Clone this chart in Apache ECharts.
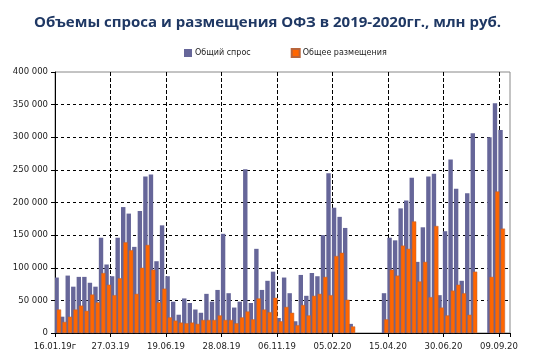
<!DOCTYPE html>
<html><head><meta charset="utf-8">
<script src="https://cdn.jsdelivr.net/npm/echarts@6/dist/echarts.min.js"></script>
<style>html,body{margin:0;padding:0;background:#fff}#c{width:535px;height:362px}</style>
</head><body><div id="c"></div>
<script>
// Tick labels (every 10th auction)
const tickLabels = ['16.01.19г','27.03.19','19.06.19','28.08.19','06.11.19','05.02.20','15.04.20','30.06.20','09.09.20'];
// Общий спрос, тыс. млн руб.
const demand = [85,25,88,71,86,86,77,71,146,105, 87,146,193,183,132,187,240,243,110,165,
  87,48,28,53,46,36,31,60,48,66, 152,61,39,48,251,46,129,66,80,94,
  23,85,61,18,89,57,92,87,150,245, 192,178,161,14,null,null,null,null,null,61,
  146,142,191,203,238,109,162,240,244,58, 156,266,221,80,214,306,null,null,300,352,
  311,null];
// Общее размещения
const supply = [36,17,25,36,42,34,59,47,92,74, 58,84,139,127,60,100,135,97,47,68,
  24,19,16,15,16,14,20,20,20,27, 20,20,15,24,33,21,53,36,32,54,
  18,40,31,12,43,27,57,60,86,58, 118,123,51,10,null,null,null,null,null,21,
  97,88,134,129,171,79,109,55,164,39, 27,65,74,61,28,94,null,null,86,217,
  160,null];

const categories = demand.map((_, i) => 'a' + i);
const k = v => v == null ? null : v * 1000;
const fmt = v => String(v).replace(/\B(?=(\d{3})+(?!\d))/g, ' ');

const chart = echarts.init(document.getElementById('c'), null, {renderer: 'canvas'});
chart.setOption({
  animation: false,
  backgroundColor: '#fff',
  title: {
    text: 'Объемы спроса и размещения ОФЗ в 2019-2020гг., млн руб.',
    left: 'center', top: 10,
    textStyle: {fontFamily: 'Open Sans', fontWeight: 'bold', fontSize: 15, color: '#1F3864'}
  },
  legend: {
    top: 43, left: 179, itemWidth: 8, itemHeight: 8, itemGap: 40,
    icon: 'rect',
    textStyle: {fontFamily: 'DejaVu Sans', fontSize: 8, color: '#222', padding: [0,0,0,-2]},
    data: ['Общий спрос', 'Общее размещения']
  },
  grid: {left: 55, right: 25, top: 72, bottom: 29, show: true, borderColor: '#888', borderWidth: 1, containLabel: false},
  xAxis: [{
    type: 'category', data: categories, boundaryGap: true, show: false
  }, {
    type: 'value', min: 0, max: categories.length, interval: 10, position: 'bottom',
    axisLine: {show: true, lineStyle: {color: '#000', width: 1}},
    axisTick: {show: true, length: 4, lineStyle: {color: '#000'}},
    axisLabel: {fontFamily: 'DejaVu Sans', fontSize: 8.5, color: '#222', margin: 9,
      showMinLabel: true, showMaxLabel: true,
      formatter: v => (v % 10 === 0 && tickLabels[v / 10]) ? tickLabels[v / 10] : ''},
    splitLine: {show: true, showMinLine: false, showMaxLine: false, lineStyle: {color: '#000', type: 'dashed', width: 1}}
  }],
  yAxis: {
    type: 'value', min: 0, max: 400000, interval: 50000,
    axisLine: {show: true, lineStyle: {color: '#000'}},
    axisTick: {show: true, length: 4, lineStyle: {color: '#000'}},
    axisLabel: {fontFamily: 'DejaVu Sans', fontSize: 8.5, color: '#222', margin: 7, formatter: fmt},
    splitLine: {show: true, showMaxLine: false, lineStyle: {color: '#000', type: [3, 3], width: 1}}
  },
  series: [
    {name: 'Общий спрос', type: 'bar', xAxisIndex: 0, data: demand.map(k), barWidth: 4.4, barGap: '-48%', z: 2,
      itemStyle: {color: '#666699'}},
    {name: 'Общее размещения', type: 'bar', xAxisIndex: 0, data: supply.map(k), barWidth: 4.4, z: 2,
      itemStyle: {color: '#FF6600', borderColor: '#b9653a', borderWidth: 0.5}}
  ]
});
</script></body></html>
